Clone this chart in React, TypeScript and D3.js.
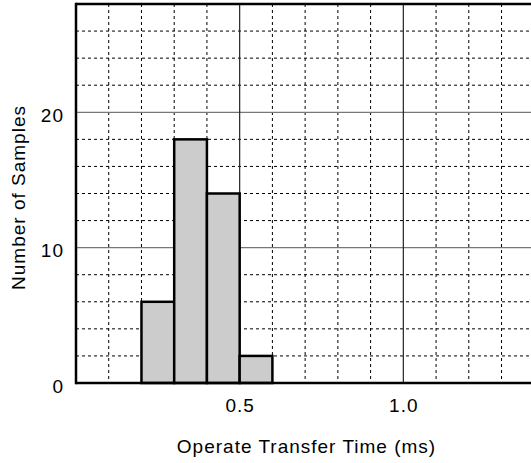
import * as d3 from "d3";
import React from "react";

const binStarts = [0.2, 0.3, 0.4, 0.5]
const binWidth = 0.1
const counts = [6, 18, 14, 2]
const xTicks = [0.5, 1.0]
const yTicks = [0, 10, 20]

const width = 531
const height = 463
const margin = { left: 76, top: 4, bottom: 80 }

export function App() {
  const x = d3.scaleLinear().domain([0, 1.5]).range([margin.left, margin.left + 491])
  const y = d3.scaleLinear().domain([0, 28]).range([height - margin.bottom, margin.top])

  const minorX = d3.range(1, 15).map(i => i / 10).filter(v => !xTicks.some(t => Math.abs(t - v) < 1e-9))
  const minorY = d3.range(2, 29, 2).filter(v => v % 10 !== 0)

  const font = "'Liberation Sans', Arial, sans-serif"
  const textStyle = { fontFamily: font, fontSize: 19, letterSpacing: "1px" }

  return (
    <svg width={width} height={height} style={{ position: "absolute", left: 0, top: 0, background: "white" }}>
      <g>
        {minorX.map(v => (
          <line key={"mx" + v} x1={x(v)} x2={x(v)} y1={y(28)} y2={y(0)} stroke="#000" strokeWidth={1} strokeDasharray="3,3" />
        ))}
        {minorY.map(v => (
          <line key={"my" + v} x1={x(0)} x2={width} y1={y(v)} y2={y(v)} stroke="#000" strokeWidth={1} strokeDasharray="3,3" />
        ))}
        {yTicks.filter(v => v > 0).map(v => (
          <line key={"gy" + v} x1={x(0)} x2={width} y1={y(v)} y2={y(v)} stroke="#777" strokeWidth={1.2} />
        ))}
        {xTicks.map(v => (
          <line key={"gx" + v} x1={x(v)} x2={x(v)} y1={y(28)} y2={y(0)} stroke="#222" strokeWidth={1.2} />
        ))}
      </g>
      {binStarts.map((b, i) => (
        <rect key={b} x={x(b)} y={y(counts[i])} width={x(b + binWidth) - x(b)} height={y(0) - y(counts[i])}
          fill="#cccccc" stroke="#000" strokeWidth={2.5} />
      ))}
      <line x1={x(0)} x2={width} y1={y(28)} y2={y(28)} stroke="#000" strokeWidth={2.5} />
      <line x1={x(0)} x2={width} y1={y(0)} y2={y(0)} stroke="#000" strokeWidth={2.5} />
      <line x1={x(0)} x2={x(0)} y1={y(28) - 1.2} y2={y(0) + 1.2} stroke="#000" strokeWidth={2.5} />
      {yTicks.map(v => (
        <text key={"yt" + v} x={x(0) - 12} y={y(v) + 9.5} textAnchor="end" style={textStyle}>{v}</text>
      ))}
      {xTicks.map(v => (
        <text key={"xt" + v} x={x(v) + 0.5} y={411.5} textAnchor="middle" style={textStyle}>{d3.format(".1f")(v)}</text>
      ))}
      <text x={306.5} y={453} textAnchor="middle" style={textStyle}>Operate Transfer Time (ms)</text>
      <text transform={`translate(25, 197.5) rotate(-90)`} textAnchor="middle" style={textStyle}>Number of Samples</text>
    </svg>
  );
}

export default App;
